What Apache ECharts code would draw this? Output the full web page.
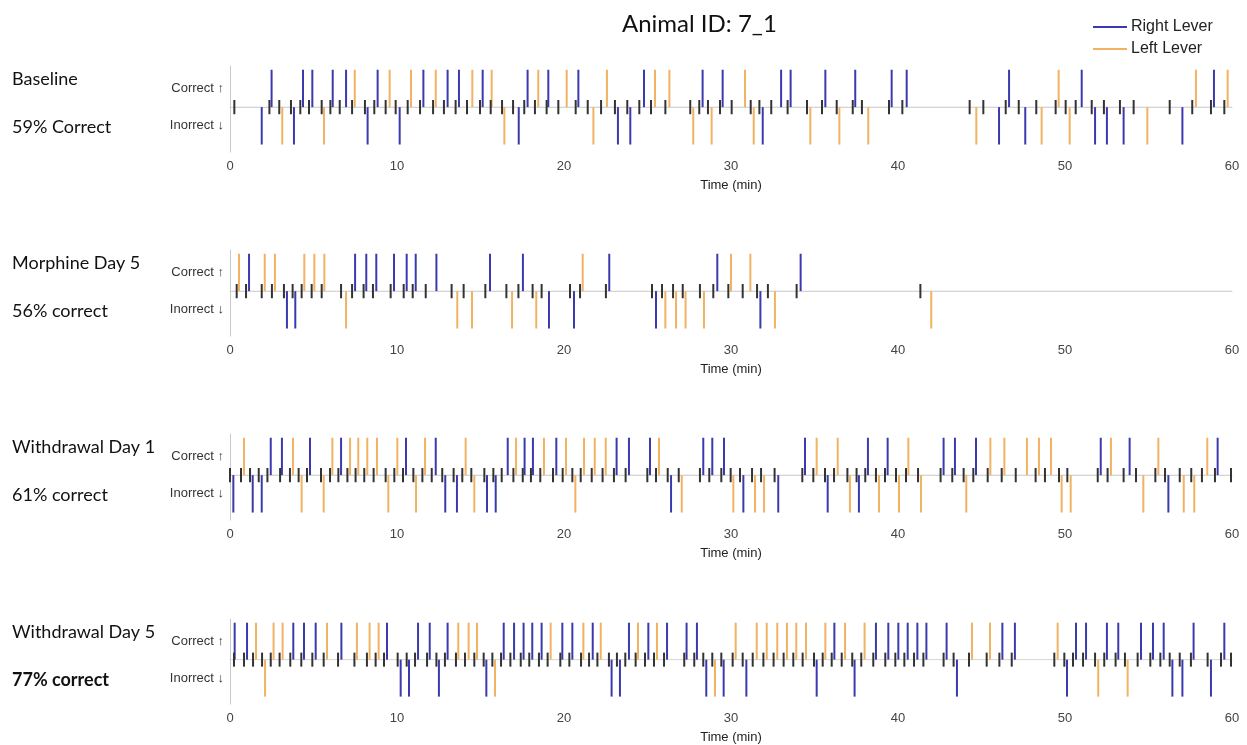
<!DOCTYPE html>
<html><head><meta charset="utf-8">
<script src="https://cdn.jsdelivr.net/npm/echarts@6/dist/echarts.min.js"></script>
<style>html,body{margin:0;padding:0;background:#fff}#c{width:1247px;height:745px}</style>
</head><body><div id="c"></div>
<script>
// ---- data (minutes) ----
const panelNames = ['Baseline', 'Morphine Day 5', 'Withdrawal Day 1', 'Withdrawal Day 5'];
const panelScores = ['59% Correct', '56% correct', '61% correct', '77% correct'];
const xTicks = [0, 10, 20, 30, 40, 50, 60];

const baselineTrials = [0.26,2.36,2.95,3.65,4.21,4.73,5.49,6.01,6.57,7.31,8.08,8.64,9.32,9.92,10.64,11.38,12.16,12.81,13.51,14.19,14.97,15.61,16.29,16.95,17.62,18.26,18.96,19.66,20.7,21.42,22.22,23.05,23.79,24.51,25.21,26.07,27.56,28.1,28.62,29.34,30.04,31.18,31.7,32.41,33.39,34.55,35.45,36.33,37.29,37.84,39.46,40.26,44.29,45.11,46.45,47.23,48.28,49.44,50.04,50.64,51.6,52.33,53.29,54.11,56.27,57.62,58.74,59.54];
const baselineRightCorrect = [2.49,4.37,4.93,6.15,6.95,8.84,11.58,13.03,13.71,15.13,17.82,19.06,20.86,24.79,28.3,29.5,33.0,33.57,35.65,37.44,39.62,40.52,46.65,51.0,58.92];
const baselineLeftCorrect = [7.47,9.56,10.84,12.32,14.51,15.67,18.46,20.16,22.57,25.45,26.31,30.84,49.62,57.84,59.74];
const baselineRightIncorrect = [1.9,3.83,8.24,10.16,17.29,23.23,23.97,31.9,46.05,47.62,51.8,52.51,53.51,57.03];
const baselineLeftIncorrect = [3.13,5.63,16.43,21.76,27.74,28.84,31.36,34.75,36.49,38.22,44.69,48.6,50.28,54.93];

const morphineTrials = [0.4,0.96,1.9,2.51,3.23,3.75,4.29,4.89,5.49,6.65,7.31,8.0,8.56,9.62,10.4,10.94,11.72,13.27,13.99,15.29,16.55,17.27,18.12,18.66,20.36,20.96,22.51,25.27,25.87,26.53,27.11,28.14,28.94,29.84,30.7,31.56,32.21,33.93,41.34];
const morphineRightCorrect = [1.14,7.49,8.16,8.76,9.82,10.58,11.12,12.36,15.57,17.54,22.71,29.18,34.17];
const morphineLeftCorrect = [0.54,2.08,2.69,4.45,5.05,5.65,21.12,30.0,31.16];
const morphineRightIncorrect = [3.41,3.91,19.1,20.6,25.51,31.76];
const morphineLeftIncorrect = [6.95,13.61,14.49,16.89,18.34,26.07,26.71,27.28,28.38,32.63,41.99];

const wd1Trials = [0,0.66,1.2,1.72,2.24,3.0,3.59,4.11,4.61,5.45,5.99,6.49,7.03,7.52,8.04,8.6,9.32,9.84,10.36,10.98,11.52,12.08,12.71,13.39,13.91,14.45,15.23,15.77,16.27,16.97,17.53,18.02,18.58,19.34,19.92,20.5,21.0,21.66,22.31,22.99,23.69,24.99,25.51,26.21,26.87,28.14,28.7,29.42,29.98,30.54,31.26,31.8,32.61,34.27,34.93,35.63,36.17,36.97,37.52,38.04,38.68,39.22,39.88,40.48,41.2,42.55,43.25,43.93,44.51,45.37,46.21,47.05,48.24,48.8,49.64,50.14,51.96,52.55,53.51,54.25,55.41,55.99,56.87,57.56,58.2,58.98,59.94];
const wd1RightCorrect = [2.44,3.11,4.79,6.65,10.54,12.32,16.63,17.64,18.14,19.54,23.15,23.89,25.15,28.34,28.88,29.58,34.43,38.2,39.38,42.73,43.41,44.67,52.14,53.87,59.14];
const wd1LeftCorrect = [0.84,3.77,6.13,7.19,7.68,8.22,8.8,10.02,11.68,14.11,17.13,18.8,20.12,21.2,21.84,22.5,25.69,35.13,36.39,40.62,45.53,46.37,47.72,48.44,49.16,52.75,55.59,58.52];
const wd1RightIncorrect = [0.2,1.36,1.9,12.89,13.59,15.39,15.91,26.41,30.74,32.83,35.79,37.66,56.19];
const wd1LeftIncorrect = [4.29,5.61,9.48,11.14,14.63,20.68,27.05,30.14,31.44,31.98,37.12,38.86,40.06,41.38,44.09,49.8,50.34,54.69,57.11,57.74];

const wd5Trials = [0.24,0.84,1.38,1.92,2.44,2.97,3.61,4.27,4.93,5.61,6.47,7.45,8.2,8.72,9.22,10.04,10.58,11.08,11.8,12.36,12.87,13.53,14.07,14.63,15.19,15.71,16.23,16.79,17.41,17.92,18.5,19.02,19.78,20.32,21.02,21.5,22.0,22.69,23.17,23.67,24.29,24.85,25.39,25.99,27.2,27.8,28.34,28.88,29.42,30.1,30.7,31.3,31.94,32.55,33.15,33.73,34.29,34.97,35.49,36.03,36.63,37.26,37.8,38.52,39.24,39.84,40.38,40.96,41.52,42.73,43.33,44.25,45.31,46.07,46.81,49.36,49.96,50.48,51.08,51.8,52.35,53.03,53.59,54.35,55.11,55.71,56.27,56.87,57.54,58.54,59.34,59.94];
const wd5RightCorrect = [0.28,1.02,3.79,4.43,5.13,6.67,9.4,11.26,11.96,13.03,16.39,17.01,17.58,18.1,18.66,19.9,20.5,21.72,23.89,25.05,26.17,27.34,27.96,36.19,38.68,39.42,40.02,40.58,41.16,41.7,42.91,46.25,47.0,50.66,51.26,52.51,53.19,54.55,55.27,55.91,57.7,59.54];
const wd5LeftCorrect = [1.56,2.61,3.15,5.81,7.6,8.36,8.9,13.67,14.29,14.79,19.2,21.16,22.2,24.43,25.57,30.28,31.54,32.14,32.77,33.35,33.91,34.49,35.65,36.83,38.0,44.43,45.51,49.56];
const wd5RightIncorrect = [10.22,10.72,12.51,15.35,22.85,23.35,28.52,29.56,30.92,35.13,37.4,43.53,50.12,56.43,57.03,58.74];
const wd5LeftIncorrect = [2.1,15.87,29.04,51.99,53.75];

// ---- build ----
const panels = [
  {trials: baselineTrials, rc: baselineRightCorrect, lc: baselineLeftCorrect, ri: baselineRightIncorrect, li: baselineLeftIncorrect},
  {trials: morphineTrials, rc: morphineRightCorrect, lc: morphineLeftCorrect, ri: morphineRightIncorrect, li: morphineLeftIncorrect},
  {trials: wd1Trials, rc: wd1RightCorrect, lc: wd1LeftCorrect, ri: wd1RightIncorrect, li: wd1LeftIncorrect},
  {trials: wd5Trials, rc: wd5RightCorrect, lc: wd5LeftCorrect, ri: wd5RightIncorrect, li: wd5LeftIncorrect}
];
const BLUE = '#3a3aae', ORANGE = '#f1b262', TICK = '#333333';
const baselines = [107, 291, 475, 660];
const PXU = 37.4;
const FONT = "'Liberation Sans', Arial, sans-serif";
const LFONT = "Lato, 'Open Sans', sans-serif";

const grids = [], xAxes = [], yAxes = [], series = [], graphics = [];
baselines.forEach((b, i) => {
  const top = Math.round(b - 1.1 * PXU);
  const bottom = Math.round(b + 1.2 * PXU);
  grids.push({left: 230, right: 15, top: top, height: bottom - top});
  xAxes.push({
    type: 'value', gridIndex: i, min: 0, max: 60, interval: 10,
    axisLine: {show: true, lineStyle: {color: '#c8c8c8', width: 1}},
    axisTick: {show: false}, splitLine: {show: false},
    axisLabel: {color: '#444', fontSize: 13, fontFamily: FONT, margin: 8,
      formatter: v => xTicks.includes(v) ? String(v) : ''},
    name: 'Time (min)', nameLocation: 'middle', nameGap: 27,
    nameTextStyle: {color: '#222', fontSize: 13, fontFamily: FONT}
  });
  yAxes.push({
    type: 'value', gridIndex: i, min: -1.2, max: 1.1, interval: 0.1,
    axisLine: {show: true, lineStyle: {color: '#c8c8c8', width: 1}},
    axisTick: {show: false}, splitLine: {show: false},
    axisLabel: {color: '#333', fontSize: 13, fontFamily: FONT, margin: 6,
      formatter: v => Math.abs(v - 0.5) < 1e-6 ? 'Correct \u2191' : (Math.abs(v + 0.5) < 1e-6 ? 'Inorrect \u2193' : '')}
  });
  series.push({
    type: 'line', xAxisIndex: i, yAxisIndex: i, silent: true, symbol: 'none',
    lineStyle: {color: '#dcdcdc', width: 1}, data: [[0, 0], [60, 0]], z: 1
  });
  const p = panels[i];
  const seg = (color, half) => function (params, api) {
    const x = api.value(0), d = api.value(1);
    const p0 = api.coord([x, half ? -d : 0]);
    const p1 = api.coord([x, d]);
    return {type: 'line', shape: {x1: p0[0], y1: p0[1], x2: p1[0], y2: p1[1]},
      style: {stroke: color, lineWidth: 2}};
  };
  series.push({
    type: 'custom', name: 'trials', xAxisIndex: i, yAxisIndex: i, silent: true, z: 3,
    renderItem: seg(TICK, true), itemStyle: {color: TICK},
    data: p.trials.map(t => [t, 0.19])
  });
  series.push({
    type: 'custom', name: 'Right Lever', xAxisIndex: i, yAxisIndex: i, silent: true, z: 2,
    renderItem: seg(BLUE, false), itemStyle: {color: BLUE},
    data: p.rc.map(t => [t, 1]).concat(p.ri.map(t => [t, -1]))
  });
  series.push({
    type: 'custom', name: 'Left Lever', xAxisIndex: i, yAxisIndex: i, silent: true, z: 2,
    renderItem: seg(ORANGE, false), itemStyle: {color: ORANGE},
    data: p.lc.map(t => [t, 1]).concat(p.li.map(t => [t, -1]))
  });
  graphics.push({type: 'text', left: 12, top: b - 37, style: {text: panelNames[i], fontSize: 18, fontFamily: LFONT, fill: '#111'}});
  graphics.push({type: 'text', left: 12, top: b + 11, style: {text: panelScores[i], fontSize: 18, fontFamily: LFONT, fill: '#111', fontWeight: i === 3 ? 'bold' : 'normal'}});
});

const chart = echarts.init(document.getElementById('c'), null, {renderer: 'canvas'});
chart.setOption({
  animation: false,
  backgroundColor: '#fff',
  title: {text: 'Animal ID: 7_1', left: 617, top: 7,
    textStyle: {fontSize: 24, fontWeight: 'normal', color: '#111', fontFamily: LFONT}},
  legend: {
    data: ['Right Lever', 'Left Lever'], orient: 'vertical', left: 1088, top: 14,
    icon: 'rect', itemWidth: 34, itemHeight: 2, itemGap: 6,
    textStyle: {fontSize: 16, color: '#222', fontFamily: FONT, padding: [0, 0, 0, -1]}
  },
  grid: grids, xAxis: xAxes, yAxis: yAxes, series: series, graphic: graphics
});
</script></body></html>
